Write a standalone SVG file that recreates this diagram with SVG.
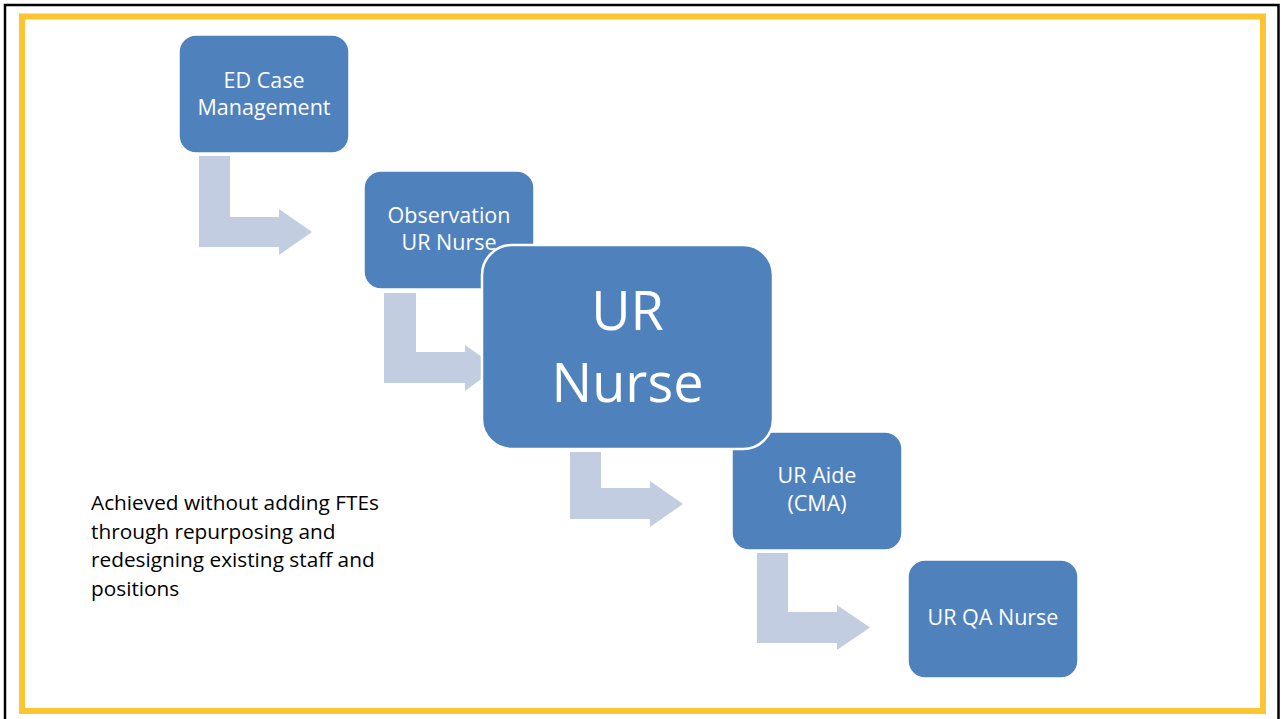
<svg xmlns="http://www.w3.org/2000/svg" width="1284" height="719" viewBox="0 0 1284 719">
  <style>
    .box { fill: #4f81bd; stroke: #ffffff; stroke-width: 1.5; }
    .big { fill: #4f81bd; stroke: #ffffff; stroke-width: 2.5; }
    .lbl { fill: #ffffff; font-family: "Open Sans", "Noto Sans", sans-serif; font-size: 21.5px; text-anchor: middle; }
    .biglbl { fill: #ffffff; font-family: "Open Sans", "Noto Sans", sans-serif; font-size: 54px; text-anchor: middle; }
    .arrow { fill: #c3cde2; }
    .note { fill: #000000; font-family: "Open Sans", "Noto Sans", sans-serif; font-size: 20.8px; }
  </style>
  <rect x="0" y="0" width="1284" height="719" fill="#ffffff"/>
  <rect x="5" y="5" width="1273.5" height="730" fill="none" stroke="#000000" stroke-width="2.5"/>
  <rect x="22" y="16.5" width="1241" height="694.5" fill="none" stroke="#fec532" stroke-width="6"/>

  <g id="connectors">
    <path class="arrow" d="M199,156 H230 V217 H279 V209 L312,232 L279,255 V247 H199 Z"/>
    <path class="arrow" d="M384,293 H416 V352 H465 V345 L497,367.5 L465,391 V383 H384 Z"/>
    <path class="arrow" d="M570,452 H601 V488 H650 V481 L683,504 L650,527 V519 H570 Z"/>
    <path class="arrow" d="M757,553 H788 V612 H837 V605 L870,627.5 L837,650 V643 H757 Z"/>
  </g>

  <g id="node-ed-case-management">
    <rect class="box" x="179" y="35" width="170" height="118" rx="17"/>
    <text class="lbl" x="264" y="88">ED Case</text>
    <text class="lbl" x="264" y="115">Management</text>
  </g>
  <g id="node-observation-ur-nurse">
    <rect class="box" x="364" y="171" width="170" height="118" rx="17"/>
    <text class="lbl" x="449" y="223">Observation</text>
    <text class="lbl" x="449" y="250">UR Nurse</text>
  </g>
  <g id="node-ur-aide">
    <rect class="box" x="732" y="432" width="170" height="118" rx="17"/>
    <text class="lbl" x="817" y="483">UR Aide</text>
    <text class="lbl" x="817" y="511">(CMA)</text>
  </g>
  <g id="node-ur-qa-nurse">
    <rect class="box" x="908" y="560" width="170" height="118" rx="17"/>
    <text class="lbl" x="993" y="625">UR QA Nurse</text>
  </g>
  <g id="node-ur-nurse">
    <rect class="big" x="482" y="245" width="291" height="204" rx="30"/>
    <text class="biglbl" x="627.5" y="330">UR</text>
    <text class="biglbl" x="627.5" y="402">Nurse</text>
  </g>

  <g id="note">
    <text class="note" x="91" y="510">Achieved without adding FTEs</text>
    <text class="note" x="91" y="539">through repurposing and</text>
    <text class="note" x="91" y="567">redesigning existing staff and</text>
    <text class="note" x="91" y="596">positions</text>
  </g>
</svg>
